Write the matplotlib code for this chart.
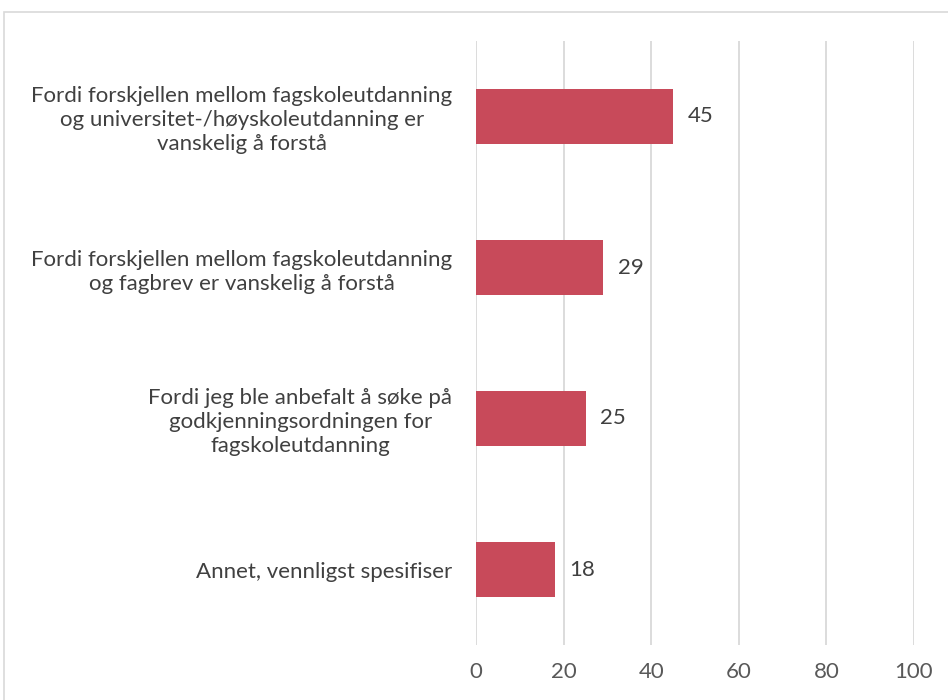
import matplotlib.pyplot as plt
from matplotlib.patches import Rectangle

categories = [
    "Fordi forskjellen mellom fagskoleutdanning\nog universitet-/høyskoleutdanning er\nvanskelig å forstå",
    "Fordi forskjellen mellom fagskoleutdanning\nog fagbrev er vanskelig å forstå",
    "Fordi jeg ble anbefalt å søke på\ngodkjenningsordningen for\nfagskoleutdanning",
    "Annet, vennligst spesifiser",
]
values = [45, 29, 25, 18]
xticks = [0, 20, 40, 60, 80, 100]

plt.rcParams['font.family'] = ['Lato', 'DejaVu Sans']

fig = plt.figure(figsize=(9.48, 7.0), dpi=100)
# light frame around the chart (cut off at right and bottom like the source)
fig.patches.append(Rectangle((4 / 948, -0.1), 2, (700 - 12) / 700 + 0.1,
                             transform=fig.transFigure, fill=False,
                             edgecolor='#d9d9d9', linewidth=1.2))

ax = fig.add_axes([476 / 948, 55 / 700, 438 / 948, 604 / 700])
pos = list(range(len(categories)))
ax.barh(pos, values, height=0.36, color='#c84a5a', zorder=3)
for p, v in zip(pos, values):
    ax.annotate(str(v), (v, p), xytext=(10.5, 0), textcoords='offset points',
                va='center', ha='left', fontsize=16, color='#404040')

ax.set_xlim(0, 100)
ax.set_ylim(len(categories) - 0.5, -0.5)
ax.set_xticks(xticks)
ax.set_yticks(pos)
ax.set_yticklabels(categories, multialignment='center', linespacing=1.25)
ax.tick_params(axis='y', length=0, pad=17, labelsize=16, labelcolor='#404040')
ax.tick_params(axis='x', length=0, pad=12, labelsize=16, labelcolor='#595959')
ax.grid(axis='x', color='#d9d9d9', linewidth=1.3, zorder=0)
for s in ax.spines.values():
    s.set_visible(False)

fig.savefig('out.png', dpi=100)
